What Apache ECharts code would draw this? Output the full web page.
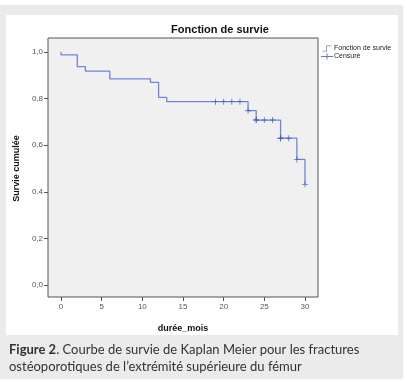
<!DOCTYPE html>
<html><head><meta charset="utf-8">
<script src="https://cdn.jsdelivr.net/npm/echarts@6/dist/echarts.min.js"></script>
<style>html,body{margin:0;padding:0;background:#fff}#c{width:412px;height:382px}</style>
</head><body><div id="c"></div>
<script>
// Kaplan-Meier survival steps (time in months, cumulative survival)
var eventTimes = [0, 0, 2, 3, 6, 11, 12, 13, 23, 24, 27, 29, 30];
var survivalValues = [1.0, 0.988, 0.937, 0.918, 0.885, 0.870, 0.805, 0.787, 0.748, 0.708, 0.630, 0.539, 0.432];
// Censored observations
var censorTimes = [19, 20, 21, 22, 23, 24, 24, 25, 26, 27, 27, 28, 29, 30];
var censorValues = [0.787, 0.787, 0.787, 0.787, 0.748, 0.708, 0.708, 0.708, 0.708, 0.630, 0.630, 0.630, 0.539, 0.432];
var xTicks = [0, 5, 10, 15, 20, 25, 30];
var yTicks = [0, 0.2, 0.4, 0.6, 0.8, 1.0];

var title = 'Fonction de survie';
var xName = 'durée_mois';
var yName = 'Survie cumulée';
var seriesNames = ['Fonction de survie', 'Censuré'];
var captionBold = 'Figure 2';
var captionRest1 = '. Courbe de survie de Kaplan Meier pour les fractures';
var captionLine2 = 'ostéoporotiques de l\u2019extrémité supérieure du fémur';

var chart = echarts.init(document.getElementById('c'), null, {renderer: 'canvas'});
var kmData = eventTimes.map(function (t, i) { return [t, survivalValues[i]]; });
var cData = censorTimes.map(function (t, i) { return [t, censorValues[i]]; });
var crossPath = 'path://M0,3 L7,3 L7,4 L0,4 Z M3,0 L4,0 L4,7 L3,7 Z';
var xMin = xTicks[0], xMax = xTicks[xTicks.length - 1];
var yMin = yTicks[0], yMax = yTicks[yTicks.length - 1];
var labelFont = {fontFamily: 'Liberation Sans', fontSize: 8, color: '#555'};
var nameFont = {fontFamily: 'Liberation Sans', fontWeight: 'bold', fontSize: 9, color: '#111'};

chart.setOption({
  animation: false,
  backgroundColor: '#ffffff',
  graphic: [
    {type: 'rect', z: -10, silent: true, shape: {x: 0, y: 5, width: 403, height: 374}, style: {fill: '#ebebeb'}},
    {type: 'rect', z: -9, silent: true, shape: {x: 6, y: 15, width: 392, height: 320}, style: {fill: '#ffffff'}},
    {type: 'text', left: 9, top: 341, style: {
      text: '{b|' + captionBold + '}' + captionRest1 + '\n' + captionLine2,
      font: '13px Lato', fill: '#333333', lineHeight: 17,
      rich: {b: {fontWeight: 'bold', fontFamily: 'Lato', fontSize: 13, fill: '#333333'}}
    }}
  ],
  title: {
    text: title, left: 215, top: 19, textAlign: 'center',
    textStyle: {fontFamily: 'Liberation Sans', fontWeight: 'bold', fontSize: 11, color: '#111'}
  },
  legend: {
    orient: 'vertical', left: 316, top: 40, itemWidth: 12, itemHeight: 6, itemGap: 1,
    textStyle: {fontFamily: 'Liberation Sans', fontSize: 7, color: '#222', padding: [0, 0, 0, -4]},
    data: [
      {name: seriesNames[0], icon: 'path://M0,7 L5,7 L5,0 L12,0 L12,1 L6,1 L6,8 L0,8 Z'},
      {name: seriesNames[1], icon: 'path://M0,3.5 L12,3.5 L12,4.5 L0,4.5 Z M5.5,1 L6.5,1 L6.5,7 L5.5,7 Z'}
    ]
  },
  grid: [
    // data area (0..30 x 0..1)
    {left: 61, right: 107, top: 52, bottom: 97, show: false},
    // frame
    {left: 48, right: 94, top: 38, bottom: 85, show: true, backgroundColor: '#f0f0f0', borderColor: '#555555', borderWidth: 1, z: 0},
    // x ticks
    {left: 61, right: 107, top: 52, bottom: 85, show: false},
    // y ticks
    {left: 48, right: 94, top: 52, bottom: 97, show: false}
  ],
  xAxis: [
    {type: 'value', gridIndex: 0, show: false, min: xMin, max: xMax},
    {type: 'value', gridIndex: 1, show: false, min: 0, max: 1},
    {type: 'value', gridIndex: 2, min: xMin, max: xMax, interval: 5,
      splitLine: {show: false}, axisLine: {show: false},
      axisTick: {show: true, length: 4, lineStyle: {color: '#555'}},
      axisLabel: Object.assign({margin: 6}, labelFont),
      name: xName, nameLocation: 'middle', nameGap: 27, nameTextStyle: nameFont
    },
    {type: 'value', gridIndex: 3, show: false, min: 0, max: 1}
  ],
  yAxis: [
    {type: 'value', gridIndex: 0, show: false, min: yMin, max: yMax},
    {type: 'value', gridIndex: 1, show: false, min: 0, max: 1},
    {type: 'value', gridIndex: 2, show: false, min: 0, max: 1},
    {type: 'value', gridIndex: 3, min: yMin, max: yMax, interval: 0.2,
      splitLine: {show: false}, axisLine: {show: false},
      axisTick: {show: true, length: 4, lineStyle: {color: '#555'}},
      axisLabel: Object.assign({margin: 5, formatter: function (v) { return v.toFixed(1).replace('.', ','); }}, labelFont),
      name: yName, nameLocation: 'middle', nameGap: 27, nameRotate: 90, nameTextStyle: nameFont
    }
  ],
  series: [
    {name: seriesNames[0], type: 'line', xAxisIndex: 0, yAxisIndex: 0, step: 'end', data: kmData,
      showSymbol: false, symbol: 'none', clip: false, z: 5,
      color: '#6f86d6', lineStyle: {color: '#6f86d6', width: 1.3}},
    {name: seriesNames[1], type: 'scatter', xAxisIndex: 0, yAxisIndex: 0, data: cData,
      symbol: crossPath, symbolSize: 6, clip: false, z: 6,
      color: '#3a58bd', itemStyle: {color: '#3a58bd'}}
  ]
});
</script></body></html>
